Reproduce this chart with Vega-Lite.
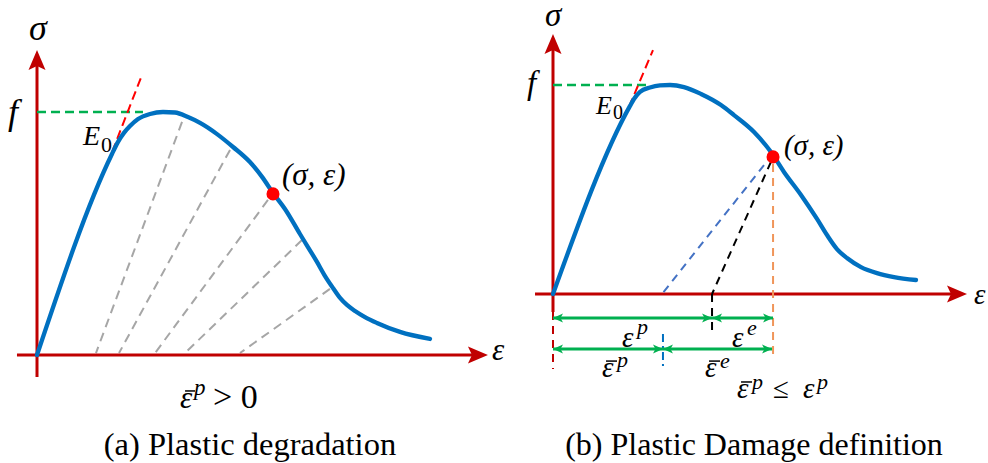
{
  "$schema": "https://vega.github.io/schema/vega-lite/v6.json",
  "background": "white",
  "padding": 0,
  "bounds": "flush",
  "spacing": 0,
  "config": {"view": {"stroke": null}, "font": "Liberation Serif"},
  "datasets": {
    "a_axes": [{"x": -0.159, "y": 0, "x2": 3.5, "y2": 0}, {"x": 0, "y": -0.0905, "x2": 0, "y2": 1.214}],
    "a_up": [{"x": 0, "y": 1.255}],
    "a_right": [{"x": 3.579, "y": 0}],
    "a_gray": [
      {"x": 1.151, "y": 0.959, "x2": 0.468, "y2": 0.008},
      {"x": 1.532, "y": 0.844, "x2": 0.651, "y2": 0.008},
      {"x": 1.833, "y": 0.638, "x2": 0.937, "y2": 0.008},
      {"x": 2.103, "y": 0.473, "x2": 1.175, "y2": 0.008},
      {"x": 2.325, "y": 0.272, "x2": 1.611, "y2": 0.008}
    ],
    "a_f": [{"x": 0, "y": 1.0, "x2": 0.841, "y2": 1.0}],
    "a_E0": [{"x": 0.556, "y": 0.782, "x2": 0.833, "y2": 1.152}],
    "a_curve": [
      {"x": 0, "y": 0}, {"x": 0.595, "y": 0.827}, {"x": 0.643, "y": 0.877}, {"x": 0.69, "y": 0.914},
      {"x": 0.738, "y": 0.942}, {"x": 0.802, "y": 0.971}, {"x": 0.897, "y": 0.992}, {"x": 1.0, "y": 1.0},
      {"x": 1.095, "y": 0.998}, {"x": 1.198, "y": 0.979}, {"x": 1.294, "y": 0.955}, {"x": 1.429, "y": 0.909},
      {"x": 1.556, "y": 0.856}, {"x": 1.69, "y": 0.794}, {"x": 1.786, "y": 0.733}, {"x": 1.873, "y": 0.667},
      {"x": 1.968, "y": 0.601}, {"x": 2.087, "y": 0.498}, {"x": 2.222, "y": 0.383}, {"x": 2.286, "y": 0.325},
      {"x": 2.349, "y": 0.276}, {"x": 2.405, "y": 0.235}, {"x": 2.46, "y": 0.206}, {"x": 2.524, "y": 0.181},
      {"x": 2.603, "y": 0.156}, {"x": 2.698, "y": 0.132}, {"x": 2.881, "y": 0.095}, {"x": 3.119, "y": 0.066}
    ],
    "a_point": [{"x": 1.873, "y": 0.663}],
    "a_big": [
      {"x": -0.064, "y": 1.296, "t": "σ"},
      {"x": -0.23, "y": 0.951, "t": "f"}
    ],
    "a_sym": [
      {"x": 1.944, "y": 0.7, "t": "(σ, ε)"},
      {"x": 3.611, "y": -0.021, "t": "ε"},
      {"x": 1.135, "y": -0.218, "t": "ε"}
    ],
    "a_bar": [{"x": 1.175, "y": -0.148, "x2": 1.254, "y2": -0.148}],
    "a_E": [{"x": 0.365, "y": 0.864, "t": "E"}],
    "a_sub": [{"x": 0.508, "y": 0.835, "t": "0"}],
    "a_sup": [{"x": 1.246, "y": -0.165, "t": "p"}],
    "a_upr": [{"x": 1.397, "y": -0.218, "t": "> 0"}],
    "a_cap": [{"x": 1.69, "y": -0.4115, "t": "(a) Plastic degradation"}],

    "b_axes": [{"x": -0.155, "y": 0, "x2": 3.483, "y2": 0}, {"x": 0, "y": -0.086, "x2": 0, "y2": 1.196}],
    "b_up": [{"x": 0, "y": 1.244}],
    "b_right": [{"x": 3.569, "y": 0}],
    "b_f": [{"x": 0, "y": 1.0, "x2": 0.845, "y2": 1.0}],
    "b_E0": [{"x": 0.655, "y": 0.895, "x2": 0.862, "y2": 1.167}],
    "b_blue": [{"x": 1.819, "y": 0.617, "x2": 0.94, "y2": 0}],
    "b_black": [{"x": 1.879, "y": 0.632, "x2": 1.371, "y2": 0}, {"x": 1.371, "y": 0, "x2": 1.371, "y2": -0.196}],
    "b_orange": [{"x": 1.897, "y": 0.622, "x2": 1.897, "y2": -0.311}],
    "b_red": [{"x": 0, "y": -0.086, "x2": 0, "y2": -0.359}],
    "b_dashdot": [{"x": 0.948, "y": -0.191, "x2": 0.948, "y2": -0.349}],
    "b_green": [
      {"x": 0, "y": -0.115, "x2": 1.371, "y2": -0.115},
      {"x": 1.371, "y": -0.115, "x2": 1.897, "y2": -0.115},
      {"x": 0, "y": -0.263, "x2": 0.948, "y2": -0.263},
      {"x": 0.948, "y": -0.263, "x2": 1.888, "y2": -0.263}
    ],
    "b_headL": [{"x": 0, "y": -0.115}, {"x": 1.371, "y": -0.115}, {"x": 0, "y": -0.263}, {"x": 0.948, "y": -0.263}],
    "b_headR": [{"x": 1.371, "y": -0.115}, {"x": 1.897, "y": -0.115}, {"x": 0.948, "y": -0.263}, {"x": 1.888, "y": -0.263}],
    "b_curve": [
      {"x": 0, "y": 0}, {"x": 0.664, "y": 0.9}, {"x": 0.698, "y": 0.933}, {"x": 0.75, "y": 0.967},
      {"x": 0.836, "y": 0.988}, {"x": 0.922, "y": 0.998}, {"x": 1.009, "y": 1.0}, {"x": 1.129, "y": 0.99},
      {"x": 1.276, "y": 0.957}, {"x": 1.448, "y": 0.904}, {"x": 1.56, "y": 0.856}, {"x": 1.733, "y": 0.775},
      {"x": 1.879, "y": 0.679}, {"x": 1.991, "y": 0.584}, {"x": 2.138, "y": 0.474}, {"x": 2.276, "y": 0.359},
      {"x": 2.362, "y": 0.282}, {"x": 2.448, "y": 0.215}, {"x": 2.534, "y": 0.172}, {"x": 2.655, "y": 0.129},
      {"x": 2.793, "y": 0.100}, {"x": 2.94, "y": 0.081}, {"x": 3.129, "y": 0.067}
    ],
    "b_point": [{"x": 1.897, "y": 0.656}],
    "b_big": [
      {"x": -0.069, "y": 1.282, "t": "σ"},
      {"x": -0.224, "y": 0.957, "t": "f"}
    ],
    "b_sym": [
      {"x": 3.629, "y": -0.048, "t": "ε"},
      {"x": 1.991, "y": 0.665, "t": "(σ, ε)"},
      {"x": 0.595, "y": -0.254, "t": "ε"},
      {"x": 1.543, "y": -0.254, "t": "ε"},
      {"x": 0.422, "y": -0.397, "t": "ε"},
      {"x": 1.31, "y": -0.397, "t": "ε"},
      {"x": 1.586, "y": -0.498, "t": "ε"},
      {"x": 2.155, "y": -0.498, "t": "ε"}
    ],
    "b_bar": [
      {"x": 0.457, "y": -0.321, "x2": 0.552, "y2": -0.321},
      {"x": 1.345, "y": -0.321, "x2": 1.44, "y2": -0.321},
      {"x": 1.621, "y": -0.421, "x2": 1.716, "y2": -0.421}
    ],
    "b_E": [{"x": 0.371, "y": 0.861, "t": "E"}],
    "b_sub": [{"x": 0.517, "y": 0.837, "t": "0"}],
    "b_sup": [
      {"x": 0.724, "y": -0.191, "t": "p"},
      {"x": 1.672, "y": -0.196, "t": "e"},
      {"x": 0.552, "y": -0.349, "t": "p"},
      {"x": 1.44, "y": -0.354, "t": "e"},
      {"x": 1.716, "y": -0.455, "t": "p"},
      {"x": 2.276, "y": -0.455, "t": "p"}
    ],
    "b_upr": [{"x": 1.897, "y": -0.498, "t": "≤"}],
    "b_cap": [{"x": 1.733, "y": -0.77, "t": "(b) Plastic Damage definition"}]
  },
  "hconcat": [
    {
      "width": 494,
      "height": 463,
      "encoding": {
        "x": {"field": "x", "type": "quantitative", "scale": {"domain": [-0.2937, 3.627], "nice": false, "zero": false}, "axis": null},
        "y": {"field": "y", "type": "quantitative", "scale": {"domain": [-0.4527, 1.4527], "nice": false, "zero": false}, "axis": null}
      },
      "layer": [
        {"data": {"name": "a_gray"}, "mark": {"type": "rule", "color": "#A6A6A6", "strokeWidth": 2, "strokeDash": [9, 6]}, "encoding": {"x2": {"field": "x2"}, "y2": {"field": "y2"}}},
        {"data": {"name": "a_axes"}, "mark": {"type": "rule", "color": "#C00000", "strokeWidth": 3}, "encoding": {"x2": {"field": "x2"}, "y2": {"field": "y2"}}},
        {"data": {"name": "a_up"}, "mark": {"type": "point", "shape": "M0,0L-0.85,2L0,1.6L0.85,2Z", "size": 400, "filled": true, "color": "#C00000", "opacity": 1, "strokeWidth": 0}},
        {"data": {"name": "a_right"}, "mark": {"type": "point", "shape": "M0,0L-2,-0.85L-1.6,0L-2,0.85Z", "size": 400, "filled": true, "color": "#C00000", "opacity": 1, "strokeWidth": 0}},
        {"data": {"name": "a_f"}, "mark": {"type": "rule", "color": "#00B050", "strokeWidth": 2.5, "strokeDash": [9, 5]}, "encoding": {"x2": {"field": "x2"}, "y2": {"field": "y2"}}},
        {"data": {"name": "a_E0"}, "mark": {"type": "rule", "color": "#FF0000", "strokeWidth": 2, "strokeDash": [9, 5]}, "encoding": {"x2": {"field": "x2"}, "y2": {"field": "y2"}}},
        {"data": {"name": "a_curve"}, "mark": {"type": "line", "color": "#0070C0", "strokeWidth": 4.3, "interpolate": "monotone", "strokeCap": "round"}},
        {"data": {"name": "a_point"}, "mark": {"type": "point", "shape": "circle", "size": 170, "filled": true, "color": "#FF0000", "opacity": 1}},
        {"data": {"name": "a_big"}, "mark": {"type": "text", "font": "Liberation Serif", "fontStyle": "italic", "fontSize": 36, "align": "left", "baseline": "alphabetic", "color": "black"}, "encoding": {"text": {"field": "t"}}},
        {"data": {"name": "a_sym"}, "mark": {"type": "text", "font": "Liberation Serif", "fontStyle": "italic", "fontSize": 31, "align": "left", "baseline": "alphabetic", "color": "black"}, "encoding": {"text": {"field": "t"}}},
        {"data": {"name": "a_bar"}, "mark": {"type": "rule", "color": "black", "strokeWidth": 1.5}, "encoding": {"x2": {"field": "x2"}, "y2": {"field": "y2"}}},
        {"data": {"name": "a_E"}, "mark": {"type": "text", "font": "Liberation Serif", "fontStyle": "italic", "fontSize": 28, "align": "left", "baseline": "alphabetic", "color": "black"}, "encoding": {"text": {"field": "t"}}},
        {"data": {"name": "a_sub"}, "mark": {"type": "text", "font": "Liberation Serif", "fontSize": 22, "align": "left", "baseline": "alphabetic", "color": "black"}, "encoding": {"text": {"field": "t"}}},
        {"data": {"name": "a_sup"}, "mark": {"type": "text", "font": "Liberation Serif", "fontStyle": "italic", "fontSize": 23, "align": "left", "baseline": "alphabetic", "color": "black"}, "encoding": {"text": {"field": "t"}}},
        {"data": {"name": "a_upr"}, "mark": {"type": "text", "font": "Liberation Serif", "fontSize": 34, "align": "left", "baseline": "alphabetic", "color": "black"}, "encoding": {"text": {"field": "t"}}},
        {"data": {"name": "a_cap"}, "mark": {"type": "text", "font": "Liberation Serif", "fontSize": 32.5, "align": "center", "baseline": "alphabetic", "color": "black"}, "encoding": {"text": {"field": "t"}}}
      ]
    },
    {
      "width": 494,
      "height": 463,
      "encoding": {
        "x": {"field": "x", "type": "quantitative", "scale": {"domain": [-0.5086, 3.75], "nice": false, "zero": false}, "axis": null},
        "y": {"field": "y", "type": "quantitative", "scale": {"domain": [-0.8182, 1.3971], "nice": false, "zero": false}, "axis": null}
      },
      "layer": [
        {"data": {"name": "b_axes"}, "mark": {"type": "rule", "color": "#C00000", "strokeWidth": 3}, "encoding": {"x2": {"field": "x2"}, "y2": {"field": "y2"}}},
        {"data": {"name": "b_up"}, "mark": {"type": "point", "shape": "M0,0L-0.85,2L0,1.6L0.85,2Z", "size": 400, "filled": true, "color": "#C00000", "opacity": 1, "strokeWidth": 0}},
        {"data": {"name": "b_right"}, "mark": {"type": "point", "shape": "M0,0L-2,-0.85L-1.6,0L-2,0.85Z", "size": 400, "filled": true, "color": "#C00000", "opacity": 1, "strokeWidth": 0}},
        {"data": {"name": "b_f"}, "mark": {"type": "rule", "color": "#00B050", "strokeWidth": 2.5, "strokeDash": [9, 5]}, "encoding": {"x2": {"field": "x2"}, "y2": {"field": "y2"}}},
        {"data": {"name": "b_E0"}, "mark": {"type": "rule", "color": "#FF0000", "strokeWidth": 2, "strokeDash": [9, 5]}, "encoding": {"x2": {"field": "x2"}, "y2": {"field": "y2"}}},
        {"data": {"name": "b_blue"}, "mark": {"type": "rule", "color": "#4472C4", "strokeWidth": 2, "strokeDash": [8, 6]}, "encoding": {"x2": {"field": "x2"}, "y2": {"field": "y2"}}},
        {"data": {"name": "b_black"}, "mark": {"type": "rule", "color": "black", "strokeWidth": 2, "strokeDash": [8, 6]}, "encoding": {"x2": {"field": "x2"}, "y2": {"field": "y2"}}},
        {"data": {"name": "b_orange"}, "mark": {"type": "rule", "color": "#F0955A", "strokeWidth": 2, "strokeDash": [8, 6]}, "encoding": {"x2": {"field": "x2"}, "y2": {"field": "y2"}}},
        {"data": {"name": "b_red"}, "mark": {"type": "rule", "color": "#C00000", "strokeWidth": 2, "strokeDash": [8, 6]}, "encoding": {"x2": {"field": "x2"}, "y2": {"field": "y2"}}},
        {"data": {"name": "b_dashdot"}, "mark": {"type": "rule", "color": "#0070C0", "strokeWidth": 2, "strokeDash": [8, 4, 2, 4]}, "encoding": {"x2": {"field": "x2"}, "y2": {"field": "y2"}}},
        {"data": {"name": "b_green"}, "mark": {"type": "rule", "color": "#00B050", "strokeWidth": 3}, "encoding": {"x2": {"field": "x2"}, "y2": {"field": "y2"}}},
        {"data": {"name": "b_headL"}, "mark": {"type": "point", "shape": "M0,0L2,-0.9L1.5,0L2,0.9Z", "size": 100, "filled": true, "color": "#00B050", "opacity": 1, "strokeWidth": 0}},
        {"data": {"name": "b_headR"}, "mark": {"type": "point", "shape": "M0,0L-2,-0.9L-1.5,0L-2,0.9Z", "size": 100, "filled": true, "color": "#00B050", "opacity": 1, "strokeWidth": 0}},
        {"data": {"name": "b_curve"}, "mark": {"type": "line", "color": "#0070C0", "strokeWidth": 4.3, "interpolate": "monotone", "strokeCap": "round"}},
        {"data": {"name": "b_point"}, "mark": {"type": "point", "shape": "circle", "size": 170, "filled": true, "color": "#FF0000", "opacity": 1}},
        {"data": {"name": "b_big"}, "mark": {"type": "text", "font": "Liberation Serif", "fontStyle": "italic", "fontSize": 33, "align": "left", "baseline": "alphabetic", "color": "black"}, "encoding": {"text": {"field": "t"}}},
        {"data": {"name": "b_sym"}, "mark": {"type": "text", "font": "Liberation Serif", "fontStyle": "italic", "fontSize": 29, "align": "left", "baseline": "alphabetic", "color": "black"}, "encoding": {"text": {"field": "t"}}},
        {"data": {"name": "b_bar"}, "mark": {"type": "rule", "color": "black", "strokeWidth": 1.5}, "encoding": {"x2": {"field": "x2"}, "y2": {"field": "y2"}}},
        {"data": {"name": "b_E"}, "mark": {"type": "text", "font": "Liberation Serif", "fontStyle": "italic", "fontSize": 26, "align": "left", "baseline": "alphabetic", "color": "black"}, "encoding": {"text": {"field": "t"}}},
        {"data": {"name": "b_sub"}, "mark": {"type": "text", "font": "Liberation Serif", "fontSize": 20, "align": "left", "baseline": "alphabetic", "color": "black"}, "encoding": {"text": {"field": "t"}}},
        {"data": {"name": "b_sup"}, "mark": {"type": "text", "font": "Liberation Serif", "fontStyle": "italic", "fontSize": 22, "align": "left", "baseline": "alphabetic", "color": "black"}, "encoding": {"text": {"field": "t"}}},
        {"data": {"name": "b_upr"}, "mark": {"type": "text", "font": "Liberation Serif", "fontSize": 29, "align": "left", "baseline": "alphabetic", "color": "black"}, "encoding": {"text": {"field": "t"}}},
        {"data": {"name": "b_cap"}, "mark": {"type": "text", "font": "Liberation Serif", "fontSize": 32, "align": "center", "baseline": "alphabetic", "color": "black"}, "encoding": {"text": {"field": "t"}}}
      ]
    }
  ]
}
